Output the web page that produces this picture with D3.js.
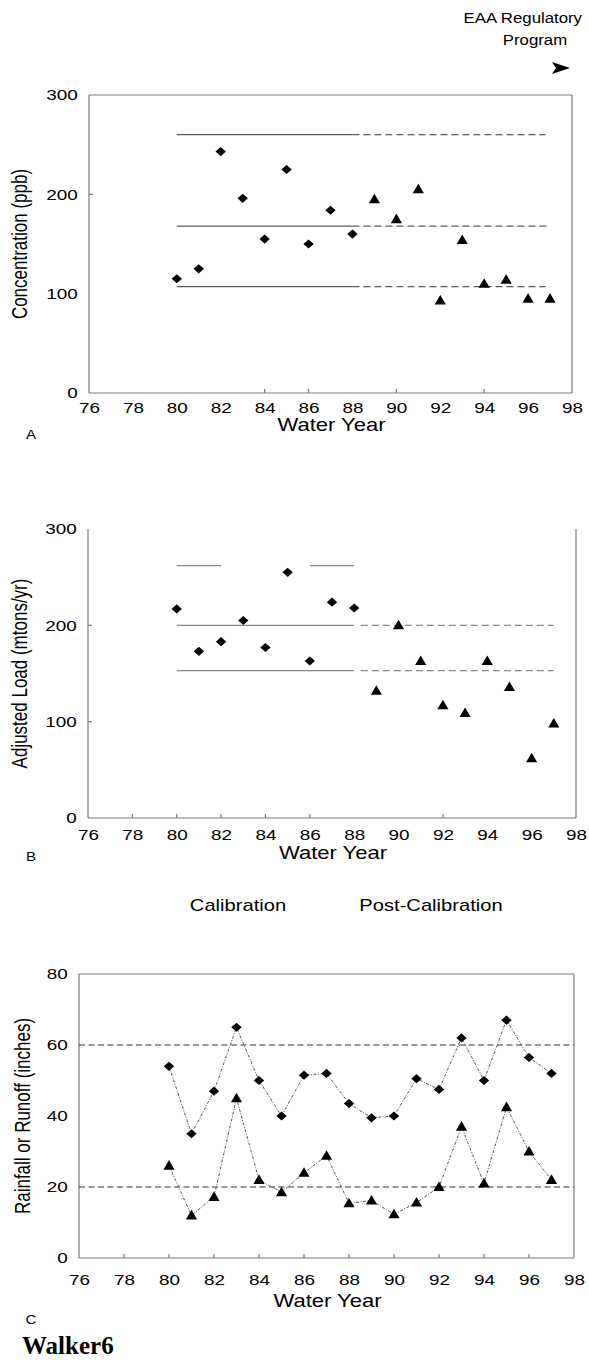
<!DOCTYPE html>
<html><head><meta charset="utf-8">
<script src="https://cdn.jsdelivr.net/npm/d3@7"></script>
<style>
html,body{margin:0;padding:0;background:#fff;}
svg{display:block;}
</style></head>
<body>
<script>
// ---------------- DATA ----------------
const xTickLabels = [76,78,80,82,84,86,88,90,92,94,96,98];
const calibYears = [80,81,82,83,84,85,86,87,88];
const postYears = [89,90,91,92,93,94,95,96,97];
const allYears = [80,81,82,83,84,85,86,87,88,89,90,91,92,93,94,95,96,97];

// Panel A: concentration (ppb)
const concCalib = [115,125,243,196,155,225,150,184,160];
const concPost = [195,175,205,93,154,110,114,95,95];
const concLevels = [260,168,107];
const concTicks = [0,100,200,300];

// Panel B: adjusted load (mtons/yr)
const loadCalib = [217,173,183,205,177,255,163,224,218];
const loadPost = [132,200,163,117,109,163,136,62,98];
const loadLevels = [200,153];
const loadUpperLevel = 262;
const loadUpperSpans = [[80,82],[86,88]];
const loadTicks = [0,100,200,300];

// Panel C: rainfall & runoff (inches)
const rainfall = [54,35,47,65,50,40,51.5,52,43.5,39.5,40,50.5,47.5,62,50,67,56.5,52];
const runoff = [26,12,17.2,45,22,18.5,24,28.8,15.4,16.2,12.3,15.6,20,37,21,42.5,30,22];
const rainRefs = [60,20];
const rainTicks = [0,20,40,60,80];

// --------------- DRAW ----------------
const W = 589, H = 1360, SX = 1.26;
const svg = d3.select("body").append("svg").attr("width",W).attr("height",H);
const FONT = "'Liberation Sans', Arial, Helvetica, sans-serif";
const frameColor = "#7a7a7a";

function stext(x,y,str,size,anchor,opts={}){
  const sx = opts.sx||SX;
  const t = svg.append("text")
    .attr("transform",`translate(${x},${y}) scale(${sx},1)` + (opts.rotate?` rotate(${opts.rotate})`:""))
    .attr("text-anchor",anchor||"middle")
    .attr("font-family",opts.family||FONT)
    .attr("font-size",size)
    .attr("fill","#000")
    .text(str);
  if(opts.weight) t.attr("font-weight",opts.weight);
  return t;
}
const diamond = "M0,-4.6L5.2,0L0,4.6L-5.2,0Z";
const triangle = "M0,-5.6L5.6,4L-5.6,4Z";

function panel(cfg){
  const {x,y,yTicks,frame,xTickMarks,yTickMarks,tickBase,titleBase,yTitle,yTitleX} = cfg;
  const ax = svg.append("g").attr("transform",`translate(0,${y.range()[0]})`)
    .call(d3.axisBottom(x).tickValues(xTickLabels).tickSize(0).tickPadding(0).tickFormat(d3.format("d")));
  ax.select(".domain").remove();
  ax.selectAll("text").attr("font-family",FONT).attr("font-size",15).attr("fill","#000")
    .attr("dy",null).attr("y",tickBase - y.range()[0])
    .attr("transform",`scale(${SX},1)`);
  const ay = svg.append("g").attr("transform",`translate(${x.range()[0]},0)`)
    .call(d3.axisLeft(y).tickValues(yTicks).tickSize(0).tickPadding(9).tickFormat(d3.format("d")));
  ay.select(".domain").remove();
  ay.selectAll("text").attr("font-family",FONT).attr("font-size",15).attr("fill","#000")
    .attr("transform",`scale(${SX},1)`).attr("x",-9);
  const [x0,x1] = x.range(), [yb,yt] = y.range();
  const fl = (a,b,c,d)=>svg.append("line").attr("x1",a).attr("y1",b).attr("x2",c).attr("y2",d)
      .attr("stroke",frameColor).attr("stroke-width",1.2);
  fl(x0,yb,x1,yb); fl(x0,yb,x0,yt); fl(x1,yb,x1,yt);
  if(frame==="box") fl(x0,yt,x1,yt);
  xTickMarks.forEach(v=>fl(x(v),yb,x(v),yb-4));
  yTickMarks.forEach(v=>fl(x0,y(v),x0+4,y(v)));
  stext((x0+x1)/2+1, titleBase, "Water Year", 17.5, "middle");
  stext(yTitleX, (yb+yt)/2, yTitle, 17, "middle", {rotate:-90});
}

// ---- Panel A ----
const xA = d3.scaleLinear([76,98],[89,572]);
const yA = d3.scaleLinear([0,300],[393,95]);
panel({x:xA,y:yA,yTicks:concTicks,frame:"box",xTickMarks:[84,86,90,94],yTickMarks:[200],
  tickBase:413,titleBase:431,yTitle:"Concentration (ppb)",yTitleX:27});
concLevels.forEach((v,i)=>{
  svg.append("line").attr("x1",xA(80)).attr("x2",xA(88)).attr("y1",yA(v)).attr("y2",yA(v))
    .attr("stroke","#333").attr("stroke-width",1);
  svg.append("line").attr("x1",xA(88)).attr("x2",xA(i===1?97:96.8)).attr("y1",yA(v)).attr("y2",yA(v))
    .attr("stroke","#333").attr("stroke-width",1).attr("stroke-dasharray","7,4");
});
svg.append("g").selectAll("path").data(calibYears).join("path")
  .attr("d",diamond).attr("transform",(d,i)=>`translate(${xA(d)},${yA(concCalib[i])})`).attr("fill","#000");
svg.append("g").selectAll("path").data(postYears).join("path")
  .attr("d",triangle).attr("transform",(d,i)=>`translate(${xA(d)},${yA(concPost[i])})`).attr("fill","#000");
stext(31,439,"A",12,"middle");

// EAA label + arrow
stext(582,23,"EAA Regulatory",15,"end",{sx:1.12});
stext(535,45,"Program",15,"middle",{sx:1.12});
svg.append("path").attr("d","M552,62L570,68L552,74L556,68Z").attr("fill","#000");

// ---- Panel B ----
const xB = d3.scaleLinear([76,98],[88,576]);
const yB = d3.scaleLinear([0,300],[818,529]);
panel({x:xB,y:yB,yTicks:loadTicks,frame:"open",xTickMarks:[78,80,82,84,86,92],yTickMarks:[100,200],
  tickBase:840,titleBase:859,yTitle:"Adjusted Load (mtons/yr)",yTitleX:27});
loadLevels.forEach(v=>{
  svg.append("line").attr("x1",xB(80)).attr("x2",xB(88)).attr("y1",yB(v)).attr("y2",yB(v))
    .attr("stroke","#888").attr("stroke-width",1.3);
  svg.append("line").attr("x1",xB(88.3)).attr("x2",xB(97)).attr("y1",yB(v)).attr("y2",yB(v))
    .attr("stroke","#888").attr("stroke-width",1.3).attr("stroke-dasharray","7,4");
});
loadUpperSpans.forEach(s=>{
  svg.append("line").attr("x1",xB(s[0])).attr("x2",xB(s[1])).attr("y1",yB(loadUpperLevel)).attr("y2",yB(loadUpperLevel))
    .attr("stroke","#888").attr("stroke-width",1.2);
});
svg.append("g").selectAll("path").data(calibYears).join("path")
  .attr("d",diamond).attr("transform",(d,i)=>`translate(${xB(d)},${yB(loadCalib[i])})`).attr("fill","#000");
svg.append("g").selectAll("path").data(postYears).join("path")
  .attr("d",triangle).attr("transform",(d,i)=>`translate(${xB(d)},${yB(loadPost[i])})`).attr("fill","#000");
stext(31,861,"B",12,"middle");

stext(238,911,"Calibration",16,"middle");
stext(431,911,"Post-Calibration",16,"middle");

// ---- Panel C ----
const xC = d3.scaleLinear([76,98],[79,574]);
const yC = d3.scaleLinear([0,80],[1258,974]);
panel({x:xC,y:yC,yTicks:rainTicks,frame:"box",xTickMarks:[78,80,82,84,86,88,90,92,94,96],yTickMarks:[],
  tickBase:1285,titleBase:1307,yTitle:"Rainfall or Runoff (inches)",yTitleX:30});
rainRefs.forEach(v=>{
  svg.append("line").attr("x1",xC(76)).attr("x2",xC(98)).attr("y1",yC(v)).attr("y2",yC(v))
    .attr("stroke","#333").attr("stroke-width",1).attr("stroke-dasharray","6,3.5");
});
const lineGen = (vals)=>d3.line().x((d,i)=>xC(allYears[i])).y(d=>yC(d))(vals);
[rainfall,runoff].forEach(vals=>{
  svg.append("path").attr("d",lineGen(vals)).attr("fill","none").attr("stroke","#444")
    .attr("stroke-width",0.9).attr("stroke-dasharray","3,1.5,1,1.5");
});
svg.append("g").selectAll("path").data(allYears).join("path")
  .attr("d",diamond).attr("transform",(d,i)=>`translate(${xC(d)},${yC(rainfall[i])})`).attr("fill","#000");
svg.append("g").selectAll("path").data(allYears).join("path")
  .attr("d",triangle).attr("transform",(d,i)=>`translate(${xC(d)},${yC(runoff[i])})`).attr("fill","#000");
stext(31,1324,"C",12,"middle");
svg.append("text").attr("x",22).attr("y",1354).attr("font-family","'Liberation Serif','Times New Roman',serif")
  .attr("font-weight","bold").attr("font-size",25).attr("fill","#000").text("Walker6");
</script>
</body></html>
